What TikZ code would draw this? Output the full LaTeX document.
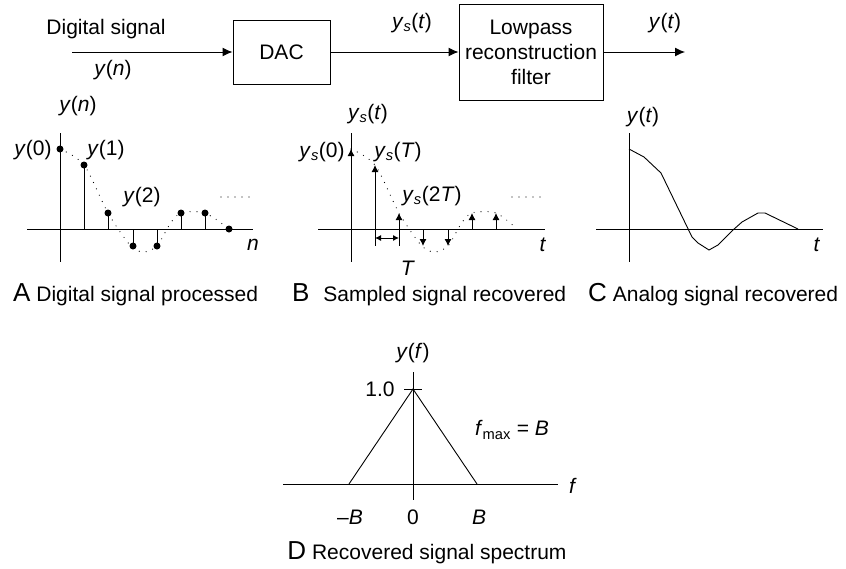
\documentclass[tikz,border=0pt]{standalone}
\usepackage{fontspec}
\setmainfont{Liberation Sans}
\usetikzlibrary{arrows.meta,positioning,calc}

\newcommand{\iv}[1]{\textit{#1}}
\newcommand{\ys}{\iv{y}\textsubscript{\iv{s}}}

\begin{document}
\begin{tikzpicture}[x=1pt,y=-1pt,
    font=\fontsize{21}{25}\selectfont,
    blk/.style={draw,line width=1pt,inner sep=0pt,align=center},
    sig/.style={line width=1pt,-{Latex[length=10pt,width=9pt]}},
    axis/.style={line width=1pt},
    stem/.style={line width=0.9pt},
    imp/.style={line width=0.9pt,-{Latex[length=7pt,width=7pt]}},
    envl/.style={line width=1.2pt,line cap=round,dash pattern=on 0pt off 7pt},
    caplbl/.style={anchor=west,inner sep=0pt}]
    \useasboundingbox (0,0) rectangle (846,568);

    % block diagram
    \node[blk,minimum width=97,minimum height=64] (dac) at (281.5,52) {DAC};
    \node[blk,minimum width=144,minimum height=96] (lpf) at (531,52) {Lowpass\\reconstruction\\filter};
    \coordinate (in) at (72,52);
    \coordinate (out) at (685,52);
    \draw[sig] (in) -- (dac);
    \draw[sig] (dac) -- (lpf);
    \draw[sig] (lpf) -- (out);
    \node (dsig) at (106,29) {Digital signal};
    \node (yn) at (113,70) {\iv{y}(\iv{n})};
    \node (yst) at (412,23) {\ys(\iv{t})};
    \node (yt) at (665,23) {\iv{y}(\iv{t})};

    % A: digital signal
    \draw[axis] (27,229) coordinate (a0) -- (253,229) coordinate (a1);
    \draw[axis] (60,133) coordinate (a2) -- (60,262) coordinate (a3);
    \draw[envl] plot[smooth,tension=0.5] coordinates {(60,149) (84,165) (108,213) (130,245) (143,252) (157,246) (170,224) (181,213) (205,213) (229,229)};
    \foreach \x/\y in {84/165,108/213,133/246,157/246,181/213,205/213}
        \draw[stem] (\x,229) -- (\x,\y);
    \foreach \x/\y in {60/149,84/165,108/213,133/246,157/246,181/213,205/213,229/229}
        \fill (\x,\y) circle (3.5pt);
    \draw[envl] (221,197) -- (256,197);
    \node (lyn) at (78,106) {\iv{y}(\iv{n})};
    \node (ly0) at (33,150) {\iv{y}(0)};
    \node (ly1) at (106,150) {\iv{y}(1)};
    \node (ly2) at (142,197) {\iv{y}(2)};
    \node (ln) at (253,245) {\iv{n}};

    % B: sampled signal
    \draw[axis] (318,229) -- (545,229);
    \draw[axis] (351,133) -- (351,262);
    \draw[envl] plot[smooth,tension=0.5] coordinates {(351,149) (375,165) (399,213) (421,245) (434,252) (448,246) (461,224) (472,213) (496,213) (517,229)};
    \foreach \x/\y in {351/149,375/165,399/213,423/246,448/246,472/213,496/213}
        \draw[imp] (\x,229) -- (\x,\y);
    \draw[stem] (375,229) -- (375,246) coordinate (tl);
    \draw[stem] (399,229) -- (399,246) coordinate (tr);
    \draw[line width=0.9pt,{Latex[length=6pt,width=6pt]}-{Latex[length=6pt,width=6pt]}] ($(tl)+(0,-8)$) -- ($(tr)+(0,-8)$);
    \draw[envl] (512,197) -- (547,197);
    \node (lyst) at (368,114) {\ys(\iv{t})};
    \node (lys0) at (322,152) {\ys(0)};
    \node (lysT) at (398,152) {\ys(\iv{T})};
    \node (lys2T) at (432,196) {\ys(2\iv{T})};
    \node (lt) at (543,245) {\iv{t}};
    \node (lT) at (408,268) {\iv{T}};

    % C: analog signal
    \draw[axis] (596,229) -- (823,229);
    \draw[axis] (629,133) -- (629,262);
    \draw[stem] (629,149) -- (644,157) -- (661,173) -- (692,237) -- (698,243) -- (709,250) -- (718,245) -- (733,230) -- (742,222) -- (758,213) -- (765,213) -- (798,229);
    \node (lyt) at (643,117) {\iv{y}(\iv{t})};
    \node (lt2) at (817,245) {\iv{t}};

    % captions
    \node[caplbl] (capA) at (13,295) {{\fontsize{26}{26}\selectfont A} Digital signal processed};
    \node[caplbl] (capB) at (292,295) {{\fontsize{26}{26}\selectfont B}\hspace{8pt} Sampled signal recovered};
    \node[caplbl] (capC) at (588,295) {{\fontsize{26}{26}\selectfont C} Analog signal recovered};

    % D: spectrum
    \draw[axis] (283,484) -- (558,484);
    \draw[axis] (413,372) -- (413,500);
    \draw[stem] (349,484) coordinate (bl) -- (413,389) coordinate (pk) -- (477,484) coordinate (br);
    \draw[axis] ($(pk)+(-9,0)$) -- ($(pk)+(9,0)$);
    \node (lyf) at (413,353) {\iv{y}(\iv{f})};
    \node (l10) at (380,389) {1.0};
    \node (lfmax) at (512,430) {\iv{f}\textsubscript{max} = \iv{B}};
    \node (lf) at (573,486) {\iv{f}};
    \node (lmB) at (350,517) {–\iv{B}};
    \node (l0) at (413,517) {0};
    \node (lB) at (479,517) {\iv{B}};
    \node (capD) at (427,553) {{\fontsize{26}{26}\selectfont D} Recovered signal spectrum};
\end{tikzpicture}
\end{document}
